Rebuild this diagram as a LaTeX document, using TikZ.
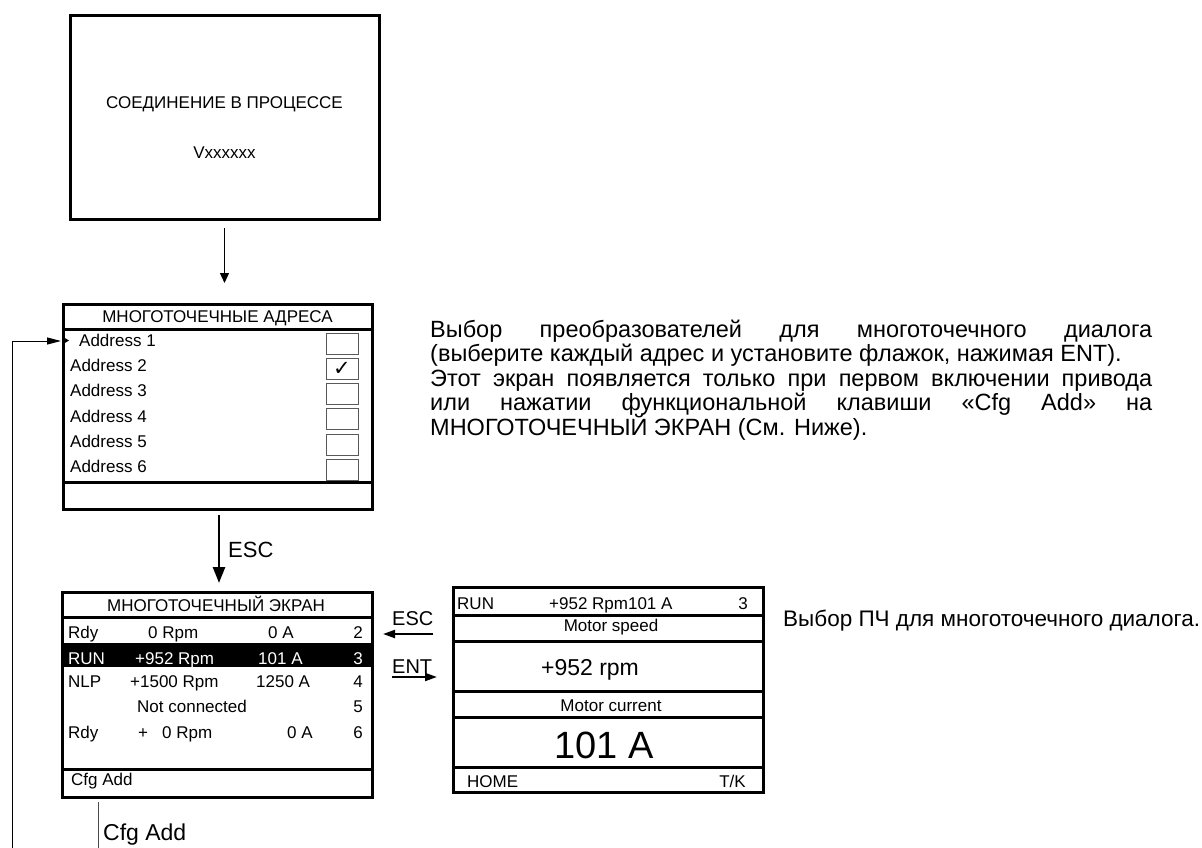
\documentclass[tikz,border=0pt]{standalone}
\usepackage{fontspec}
\setmainfont{Liberation Sans}
\newfontfamily\symfont{DejaVu Sans}
\usetikzlibrary{arrows.meta}
\newcommand\sz[1]{\fontsize{#1bp}{#1bp}\selectfont}
\tikzset{
  screen/.style={draw, line width=3bp, inner sep=0pt, outer sep=0pt, anchor=north west},
  rule/.style={line width=3bp},
  txt/.style={inner sep=0pt, anchor=base west},
  ctext/.style={inner sep=0pt, anchor=base},
  rtext/.style={inner sep=0pt, anchor=base east},
  chk/.style={line width=1bp, draw=black!65},
  thinarrow/.style={line width=1.2bp, -{Triangle[length=10bp,width=9bp]}},
  keyarrow/.style={line width=2.5bp, -{Triangle[length=16bp,width=12bp]}},
  sidearrow/.style={line width=2bp, -{Triangle[length=12bp,width=8bp]}},
  fbarrow/.style={line width=1bp, -{Triangle[length=14bp,width=7bp]}},
}
\begin{document}
\begin{tikzpicture}[x=1bp,y=-1bp]
\useasboundingbox (0,0) rectangle (1202,848);

% ---- top screen
\node[screen, minimum width=309bp, minimum height=204bp] (top) at (70,15) {};
\node[ctext, font=\sz{17}] (toptitle) at (224.5,108) {СОЕДИНЕНИЕ В ПРОЦЕССЕ};
\node[ctext, font=\sz{17}] (topver) at (224.5,158) {Vxxxxxx};

% ---- address screen
\node[screen, minimum width=309bp, minimum height=205bp] (addr) at (63,304) {};
\draw[rule] (addr.west |- 0,329) -- (addr.east |- 0,329);
\draw[rule] (addr.west |- 0,482) -- (addr.east |- 0,482);
\node[ctext, font=\sz{17}] (addrtitle) at (217.5,322) {МНОГОТОЧЕЧНЫЕ АДРЕСА};
\node[txt, font=\sz{17}] (a1) at (79,346) {Address 1};
\node[txt, font=\sz{17}] (a2) at (70,371) {Address 2};
\node[txt, font=\sz{17}] (a3) at (70,396) {Address 3};
\node[txt, font=\sz{17}] (a4) at (70,422) {Address 4};
\node[txt, font=\sz{17}] (a5) at (70,447) {Address 5};
\node[txt, font=\sz{17}] (a6) at (70,472) {Address 6};
\foreach \yy in {333,358,383,408,434,459}
  \draw[chk] (326,\yy) rectangle (358,{\yy+21});
\node[inner sep=0pt, font=\symfont\sz{21}] (tick) at (342,369) {✓};
\fill (64,337.5) -- (69,340.5) -- (64,343.5) -- cycle;

% ---- multipoint screen
\node[screen, minimum width=310bp, minimum height=205bp] (mp) at (62,592) {};
\fill (mp.west |- 0,643) rectangle (mp.east |- 0,667);
\draw[rule] (mp.west |- 0,617) -- (mp.east |- 0,617);
\draw[rule] (mp.west |- 0,769) -- (mp.east |- 0,769);
\node[ctext, font=\sz{17}] (mptitle) at (216,611) {МНОГОТОЧЕЧНЫЙ ЭКРАН};
\begin{scope}[font=\sz{17}]
\node[txt] (r1a) at (68,638) {Rdy};
\node[txt] (r1b) at (148,638) {0 Rpm};
\node[txt] (r1c) at (268,638) {0 A};
\node[rtext] (r1d) at (363,638) {2};
\node[txt, text=white] (r2a) at (68,664) {RUN};
\node[txt, text=white] (r2b) at (135,664) {+952 Rpm};
\node[txt, text=white] (r2c) at (258,664) {101 A};
\node[rtext, text=white] (r2d) at (363,664) {3};
\node[txt] (r3a) at (68,687) {NLP};
\node[txt] (r3b) at (130,687) {+1500 Rpm};
\node[txt] (r3c) at (256,687) {1250 A};
\node[rtext] (r3d) at (363,687) {4};
\node[txt] (r4b) at (137,712) {Not connected};
\node[rtext] (r4d) at (363,712) {5};
\node[txt] (r5a) at (68,738) {Rdy};
\node[txt] (r5b) at (138,738) {+};
\node[txt] (r5c) at (162,738) {0 Rpm};
\node[txt] (r5d) at (287,738) {0 A};
\node[rtext] (r5e) at (363,738) {6};
\node[txt] (mpfoot) at (71,785) {Cfg Add};
\end{scope}

% ---- drive screen
\node[screen, minimum width=310bp, minimum height=205bp] (rb) at (453,587) {};
\foreach \yy in {615,641,691,717,767}
  \draw[rule] (rb.west |- 0,\yy) -- (rb.east |- 0,\yy);
\node[txt, font=\sz{17}] (rbrun) at (457,609) {RUN};
\node[txt, font=\sz{17}] (rbval) at (549,609) {+952 Rpm101 A};
\node[rtext, font=\sz{17}] (rbnum) at (748,609) {3};
\node[ctext, font=\sz{17}] (rbspeed) at (611,631) {Motor speed};
\node[ctext, font=\sz{23}] (rbrpm) at (590,675) {+952 rpm};
\node[ctext, font=\sz{17}] (rbcur) at (611,711) {Motor current};
\node[ctext, font=\sz{38}] (rbamp) at (604,758) {101 A};
\node[txt, font=\sz{17}] (rbhome) at (467,787) {HOME};
\node[rtext, font=\sz{17}] (rbtk) at (746,787) {T/K};

% ---- connectors
\draw[thinarrow, shorten <=9bp] (top.south) -- (top.south |- addr.north) [shorten >=21bp];
\draw[keyarrow, shorten <=6bp, shorten >=9bp] (219,0 |- addr.south) -- (219,0 |- mp.north);
\node[txt, font=\sz{22}] (esc1) at (228,557) {ESC};

\draw[sidearrow, shorten <=20bp, shorten >=11bp] (rb.west |- 0,634) -- (mp.east |- 0,634);
\node[txt, font=\sz{20}] (esc2) at (392,625) {ESC};
\draw[sidearrow, shorten <=20bp, shorten >=16bp] (mp.east |- 0,677) -- (rb.west |- 0,677);
\node[txt, font=\sz{20}] (ent) at (392,673) {ENT};

\coordinate (fbstart) at (12,848);
\draw[fbarrow, shorten >=2bp] (fbstart) |- (addr.west |- 0,341);

\coordinate (cfgend) at (98,848);
\draw[line width=1bp, draw=black!70, shorten <=5bp] (98,0 |- mp.south) -- (cfgend);
\node[txt, font=\sz{23}] (cfglabel) at (103,840) {Cfg Add};

% ---- explanatory texts
\begin{scope}[font=\sz{23.5}]
\node[txt] (p1) at (430,337) {\hbox to 722bp{Выбор\hfill преобразователей\hfill для\hfill многоточечного\hfill диалога}};
\node[txt] (p2) at (430,361) {(выберите каждый адрес и установите флажок, нажимая ENT).};
\node[txt] (p3) at (430,386) {\hbox to 722bp{Этот\hfill экран\hfill появляется\hfill только\hfill при\hfill первом\hfill включении\hfill привода}};
\node[txt] (p4) at (430,410) {\hbox to 722bp{или\hfill нажатии\hfill функциональной\hfill клавиши\hfill «Cfg\hfill Add»\hfill на}};
\node[txt] (p5) at (430,435) {МНОГОТОЧЕЧНЫЙ ЭКРАН (См. Ниже).};
\end{scope}
\node[txt, font=\sz{22.5}] (q1) at (783,626) {Выбор ПЧ для многоточечного диалога.};
\end{tikzpicture}
\end{document}
